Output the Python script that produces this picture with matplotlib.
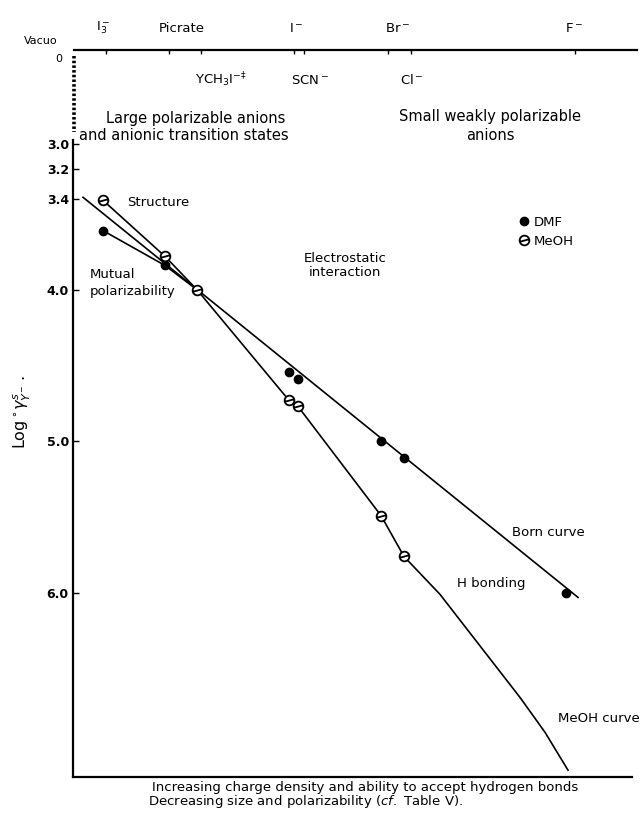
import matplotlib
matplotlib.use("Agg")
import matplotlib.pyplot as plt
import numpy as np
from matplotlib.path import Path
from matplotlib.lines import Line2D
from matplotlib import transforms

# --- data ---------------------------------------------------------------
# anions in order of increasing charge density (qualitative position scale)
anions = ["I3", "Picrate", "YCH3I", "I", "SCN", "Br", "Cl", "F"]
anion_pos = [30, 92, 124, 216, 225, 308, 331, 493]

upper_idx = [0, 1, 3, 5, 7]
upper_labels = [r"$\mathregular{I_3^-}$", "Picrate", r"$\mathregular{I^-}$",
                r"$\mathregular{Br^-}$", r"$\mathregular{F^-}$"]
lower_idx = [2, 4, 6]
lower_labels = [r"$\mathregular{YCH_3I^{-\ddag}}$", r"$\mathregular{SCN^-}$",
                r"$\mathregular{Cl^-}$"]

# log activity coefficient values
dmf_y = [3.61, 3.84, 4.00, 4.54, 4.59, 5.00, 5.11, 6.00]
meoh_y = [3.41, 3.78, 4.00, 4.73, 4.77, 5.49, 5.76]

# drawn curves
born_x = [10, 505]
born_y = [3.39, 6.03]
meoh_tail_x = [367, 407, 447, 472, 495]
meoh_tail_y = [6.01, 6.35, 6.69, 6.92, 7.17]

yticks = [3.0, 3.2, 3.4, 4.0, 5.0, 6.0]

# --- layout helpers -------------------------------------------------------
W, H = 641, 814
def fx(px):
    return px / W
def fy(py):
    return 1 - py / H

fig = plt.figure(figsize=(W / 100, H / 100), dpi=100)
plt.rcParams["font.family"] = "DejaVu Sans"

# broken (compressed) y-axis above 3.4
kv = np.array([2.0, 3.0, 3.2, 3.4, 8.0])
kp = np.array([19.0, 144.0, 169.0, 199.0, 199.0 + 4.6 * 151.5])
def fwd(v):
    return np.interp(v, kv, kp)
def inv(p):
    return np.interp(p, kp, kv)

ax = fig.add_axes([fx(73), fy(777), fx(559), (777 - 140) / H])
ax.set_yscale("function", functions=(fwd, inv))
ax.set_ylim(7.215, 2.97)
ax.set_xlim(0, 559)

lw = 1.2
ax.plot(anion_pos[:3], dmf_y[:3], color="k", lw=lw, zorder=2)
ax.plot(born_x, born_y, color="k", lw=lw, zorder=2)
ax.plot(anion_pos[:7] + meoh_tail_x, meoh_y + meoh_tail_y, color="k", lw=lw, zorder=2)

theta = Path.make_compound_path(Path.unit_circle(),
                                Path([[-0.9, -0.25], [0.9, 0.25]]))
ax.plot(anion_pos, dmf_y, ls="none", marker="o", ms=6, mfc="k", mec="k", zorder=3)
ax.plot(anion_pos[:7], meoh_y, ls="none", marker=theta, ms=7, mfc="white",
        mec="k", mew=1.3, zorder=3)

for s in ["top", "right"]:
    ax.spines[s].set_visible(False)
for s in ["left", "bottom"]:
    ax.spines[s].set_linewidth(1.6)
ax.set_xticks([])
ax.set_yticks(yticks)
ax.set_yticklabels([f"{t:.1f}" for t in yticks], fontsize=9, fontweight="bold")
ax.tick_params(axis="y", direction="in", length=4, width=1, pad=3)

ax.legend(handles=[Line2D([], [], ls="none", marker="o", ms=6, mfc="k", mec="k"),
                   Line2D([], [], ls="none", marker=theta, ms=7, mfc="white",
                          mec="k", mew=1.3)],
          labels=["DMF", "MeOH"], loc="center left",
          bbox_to_anchor=(fx(513), fy(232)), bbox_transform=fig.transFigure,
          frameon=False, handlelength=0.6, handletextpad=0.5,
          labelspacing=0.45, fontsize=9.5, borderpad=0)

# --- top scale ------------------------------------------------------------
axt = fig.add_axes([fx(74), fy(50), fx(563), 0.02])
axt.set_xlim(-1.6, 554.2)
for s in ["top", "right", "left"]:
    axt.spines[s].set_visible(False)
axt.spines["bottom"].set_linewidth(1.6)
axt.set_yticks([])
axt.set_xticks(anion_pos)
axt.tick_params(axis="x", direction="out", length=3, width=1, labelbottom=False)
axt.patch.set_alpha(0)

trans = transforms.blended_transform_factory(axt.transData, fig.transFigure)
upper_dx = [-3, 13, 2, 10, -1]
lower_dx = [19, 7, 1]
for i, lab, dx in zip(upper_idx, upper_labels, upper_dx):
    axt.text(anion_pos[i] + dx, fy(28), lab, transform=trans, ha="center",
             va="center", fontsize=9.5)
for i, lab, dx in zip(lower_idx, lower_labels, lower_dx):
    axt.text(anion_pos[i] + dx, fy(80), lab, transform=trans, ha="center",
             va="center", fontsize=9.5)

fig.text(fx(41), fy(41), "Vacuo", ha="center", va="center", fontsize=8)
fig.text(fx(59), fy(59), "0", ha="center", va="center", fontsize=8)
# beaded "break" line below the vacuum origin
fig.add_artist(Line2D([fx(74), fx(74)], [fy(56), fy(132)], transform=fig.transFigure,
                      color="k", lw=2.6, ls=(0, (0.7, 0.6)), solid_capstyle="round"))

fig.text(fx(196), fy(118), "Large polarizable anions", ha="center", va="center", fontsize=10.5)
fig.text(fx(184), fy(136), "and anionic transition states", ha="center", va="center", fontsize=10.5)
fig.text(fx(490), fy(117), "Small weakly polarizable", ha="center", va="center", fontsize=10.5)
fig.text(fx(490), fy(135), "anions", ha="center", va="center", fontsize=10.5)

# --- annotations inside the plot ----------------------------------------
fig.text(fx(127), fy(203), "Structure", ha="left", va="center", fontsize=9.5)
fig.text(fx(90), fy(275), "Mutual", ha="left", va="center", fontsize=9.5)
fig.text(fx(90), fy(292), "polarizability", ha="left", va="center", fontsize=9.5)
fig.text(fx(345), fy(258), "Electrostatic", ha="center", va="center", fontsize=9.5)
fig.text(fx(345), fy(273), "interaction", ha="center", va="center", fontsize=9.5)
fig.text(fx(512), fy(533), "Born curve", ha="left", va="center", fontsize=9.5)
fig.text(fx(457), fy(583), "H bonding", ha="left", va="center", fontsize=9.5)
fig.text(fx(558), fy(718), "MeOH curve", ha="left", va="center", fontsize=9.5)

fig.text(fx(22), fy(412), r"Log$\,^{\circ}\gamma^{s}_{Y^{-}}$ .", rotation=90,
         ha="center", va="center", fontsize=11.5)

fig.text(fx(152), fy(787), "Increasing charge density and ability to accept hydrogen bonds",
         ha="left", va="center", fontsize=9.5)
fig.text(fx(148), fy(801), r"Decreasing size and polarizability ($\it{cf.}$ Table V).",
         ha="left", va="center", fontsize=9.5)

fig.savefig("out.png", dpi=100)
